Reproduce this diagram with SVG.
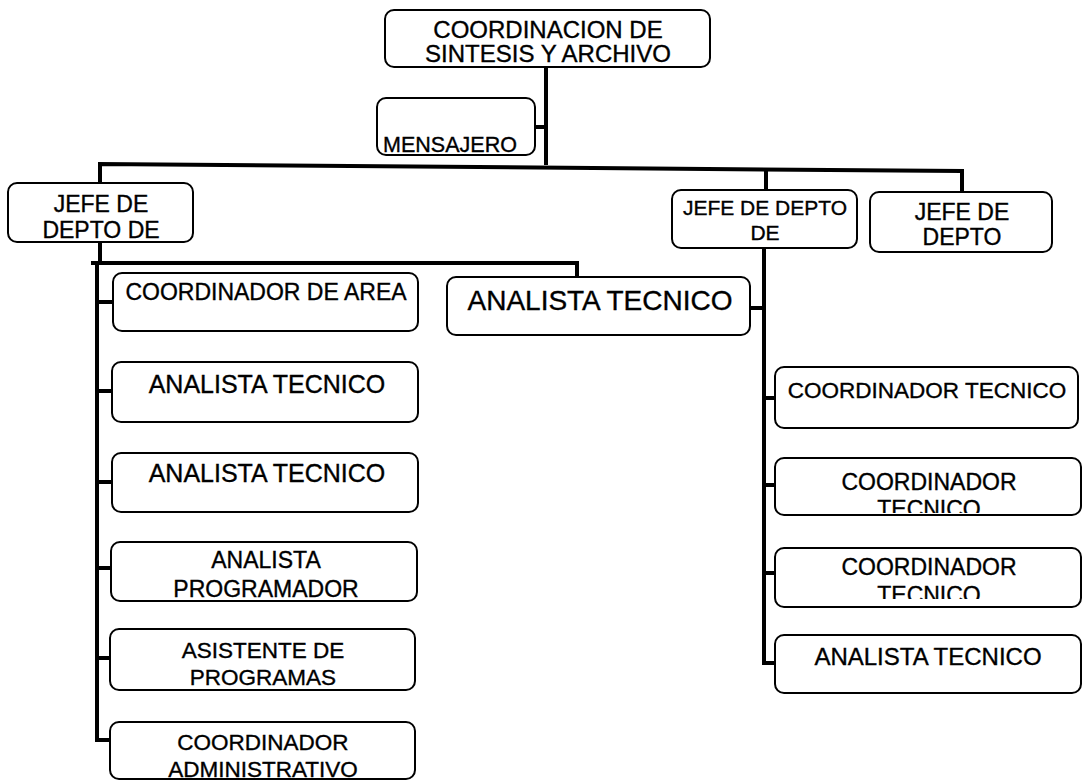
<svg xmlns="http://www.w3.org/2000/svg" width="1083" height="781" viewBox="0 0 1083 781">
<style>
.box{fill:#fff;stroke:#000;stroke-width:2}
.t{font-family:"Liberation Sans",Arial,sans-serif;fill:#000;stroke:#000;stroke-width:0.35;text-anchor:middle}
.c{fill:none;stroke:#000;stroke-width:4;stroke-linejoin:miter;stroke-linecap:square}
</style>
<defs>
<clipPath id="clipB2"><rect x="775" y="458" width="305" height="55"/></clipPath>
<clipPath id="clipB3"><rect x="775" y="548" width="305" height="51"/></clipPath>
</defs>
<rect width="1083" height="781" fill="#fff"/>
<g id="connectors">
<path class="c" d="M546,67 V163"/>
<path class="c" d="M535,127 H546"/>
<path class="c" d="M100,183 V164 L962,171 V192"/>
<path class="c" d="M766,170 V190"/>
<path class="c" d="M100,242 V263"/>
<path class="c" d="M93,263 H577 V283"/>
<path class="c" d="M97,263 V740"/>
<path class="c" d="M97,302 H113"/>
<path class="c" d="M97,391 H112"/>
<path class="c" d="M97,482 H112"/>
<path class="c" d="M97,568 H111"/>
<path class="c" d="M97,658 H110"/>
<path class="c" d="M97,740 H110"/>
<path class="c" d="M764,248 V663"/>
<path class="c" d="M750,308 H764"/>
<path class="c" d="M764,398 H775"/>
<path class="c" d="M764,485 H775"/>
<path class="c" d="M764,573 H775"/>
<path class="c" d="M764,663 H775"/>
</g>
<g id="n-coordinacion">
<rect class="box" x="385" y="10" width="325" height="57" rx="9"/>
<text class="t" x="548" y="38" font-size="24">COORDINACION DE</text>
<text class="t" x="548" y="62" font-size="24">SINTESIS Y ARCHIVO</text>
</g>
<g id="n-mensajero">
<rect class="box" x="377" y="98" width="158" height="57" rx="9"/>
<text class="t" x="450" y="152" font-size="21.5">MENSAJERO</text>
</g>
<g id="n-jefe1">
<rect class="box" x="8" y="183" width="185" height="59" rx="9"/>
<text class="t" x="101" y="212" font-size="23">JEFE DE</text>
<text class="t" x="101" y="238" font-size="23">DEPTO DE</text>
</g>
<g id="n-jefe2">
<rect class="box" x="672" y="190" width="185" height="58" rx="9"/>
<text class="t" x="765" y="215" font-size="21">JEFE DE DEPTO</text>
<text class="t" x="765" y="240" font-size="21">DE</text>
</g>
<g id="n-jefe3">
<rect class="box" x="870" y="192" width="182" height="60" rx="9"/>
<text class="t" x="962" y="220" font-size="23">JEFE DE</text>
<text class="t" x="962" y="245" font-size="23">DEPTO</text>
</g>
<g id="n-analista-mid">
<rect class="box" x="447" y="277" width="303" height="58" rx="9"/>
<text class="t" x="600" y="310" font-size="28">ANALISTA TECNICO</text>
</g>
<g id="n-coord-area">
<rect class="box" x="113" y="273" width="305" height="58" rx="9"/>
<text class="t" x="266" y="300" font-size="23">COORDINADOR DE AREA</text>
</g>
<g id="n-analista-l1">
<rect class="box" x="112" y="362" width="306" height="60" rx="9"/>
<text class="t" x="267" y="393" font-size="25">ANALISTA TECNICO</text>
</g>
<g id="n-analista-l2">
<rect class="box" x="112" y="453" width="306" height="59" rx="9"/>
<text class="t" x="267" y="482" font-size="25">ANALISTA TECNICO</text>
</g>
<g id="n-analista-prog">
<rect class="box" x="111" y="542" width="306" height="59" rx="9"/>
<text class="t" x="266" y="568" font-size="23">ANALISTA</text>
<text class="t" x="266" y="597" font-size="23">PROGRAMADOR</text>
</g>
<g id="n-asistente">
<rect class="box" x="110" y="629" width="305" height="61" rx="9"/>
<text class="t" x="263" y="658" font-size="22.5">ASISTENTE DE</text>
<text class="t" x="263" y="685" font-size="22.5">PROGRAMAS</text>
</g>
<g id="n-coord-admin">
<rect class="box" x="110" y="722" width="305" height="57" rx="9"/>
<text class="t" x="263" y="750" font-size="22.5">COORDINADOR</text>
<text class="t" x="263" y="777" font-size="22.5">ADMINISTRATIVO</text>
</g>
<g id="n-coord-tec1">
<rect class="box" x="775" y="367" width="303" height="61" rx="9"/>
<text class="t" x="927" y="398" font-size="22.5">COORDINADOR TECNICO</text>
</g>
<g id="n-coord-tec2">
<rect class="box" x="775" y="458" width="306" height="57" rx="9"/>
<text class="t" x="929" y="490" font-size="23">COORDINADOR</text>
<text class="t" x="929" y="517" font-size="23" clip-path="url(#clipB2)">TECNICO</text>
</g>
<g id="n-coord-tec3">
<rect class="box" x="775" y="548" width="306" height="59" rx="9"/>
<text class="t" x="929" y="575" font-size="23">COORDINADOR</text>
<text class="t" x="929" y="603" font-size="23" clip-path="url(#clipB3)">TECNICO</text>
</g>
<g id="n-analista-r">
<rect class="box" x="775" y="635" width="306" height="58" rx="9"/>
<text class="t" x="928" y="665" font-size="24">ANALISTA TECNICO</text>
</g>
</svg>
